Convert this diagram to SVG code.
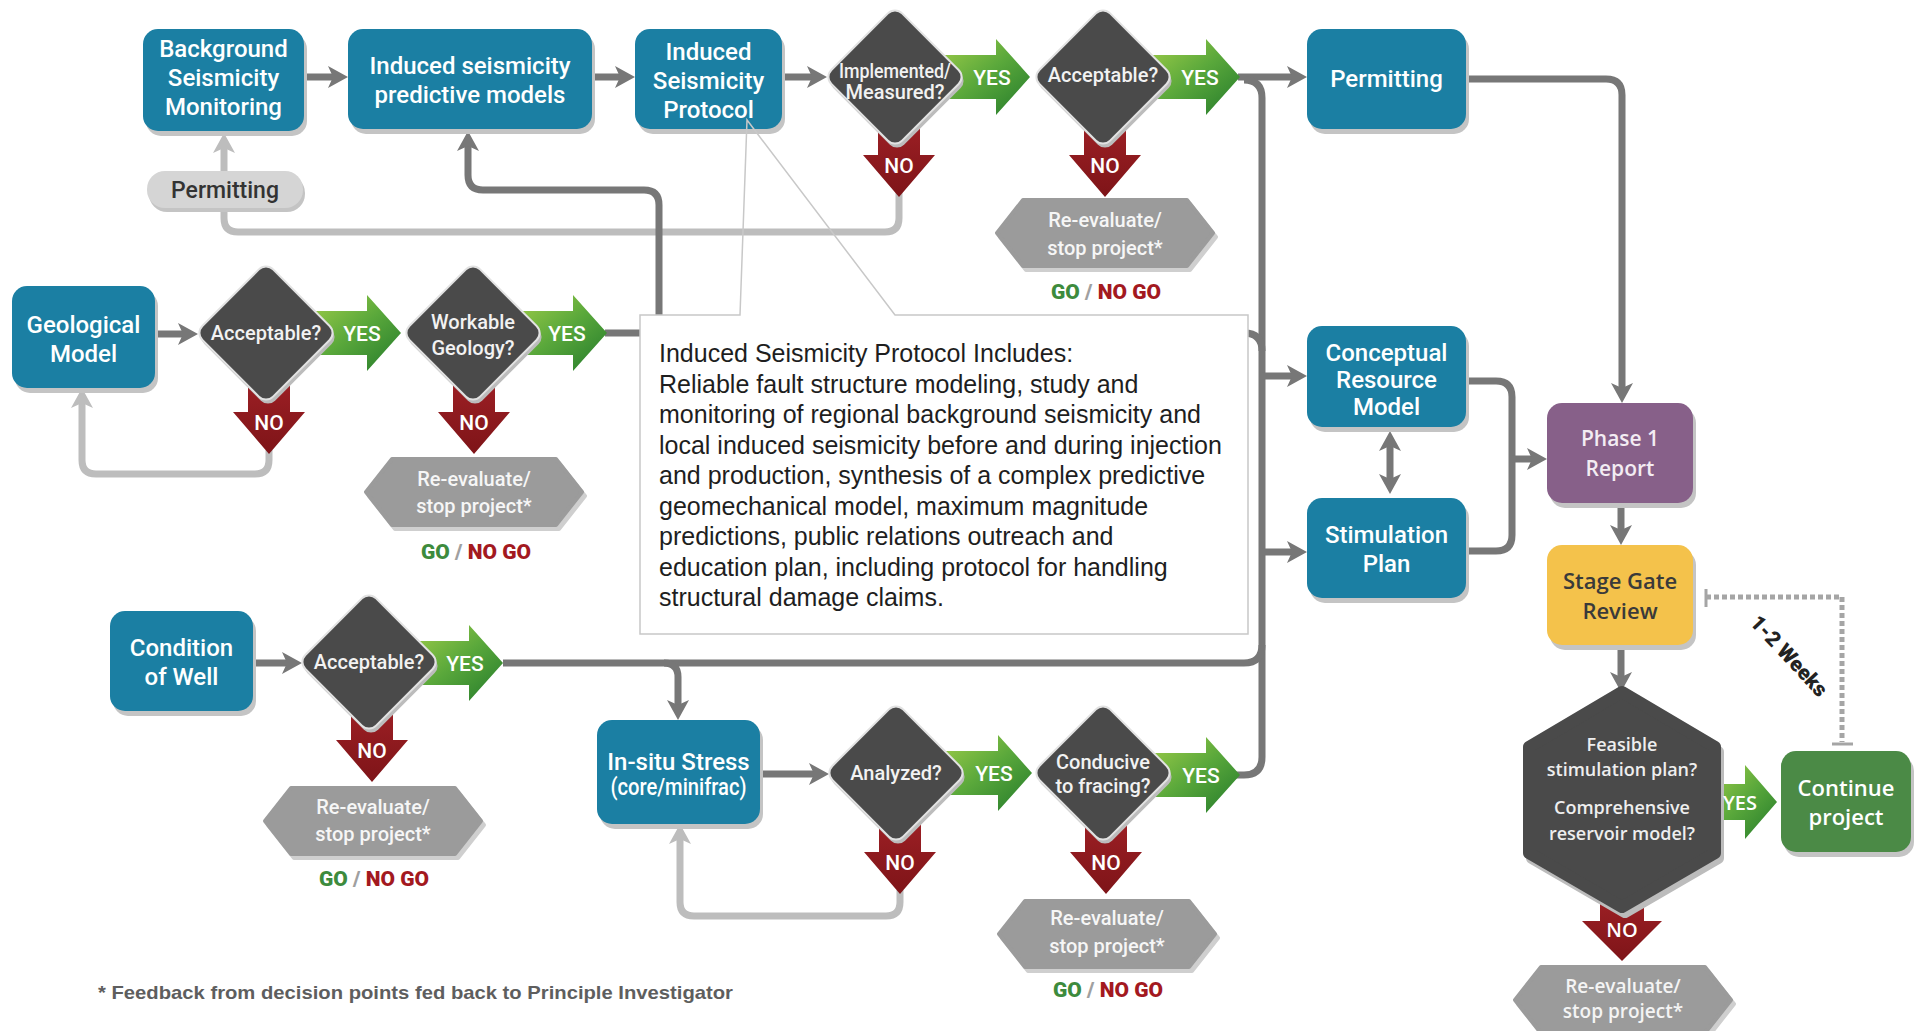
<svg xmlns="http://www.w3.org/2000/svg" width="1915" height="1031" viewBox="0 0 1915 1031">
<style>
.box{fill:#1b7fa3}
.sh{fill:#c4c4c4}
.bt{font-family:Roboto,"Liberation Sans",sans-serif;font-weight:500;font-size:24px;fill:#fff;text-anchor:middle}
.dt{font-family:Roboto,"Liberation Sans",sans-serif;font-weight:500;font-size:20px;fill:#f2f2f2;text-anchor:middle}
.yn{font-family:Roboto,"Liberation Sans",sans-serif;font-weight:500;font-size:21px;fill:#fff;text-anchor:middle}
.rt{font-family:Roboto,"Liberation Sans",sans-serif;font-weight:500;font-size:20px;fill:#f6f6f6;text-anchor:middle}
.gng{font-family:Roboto,"Liberation Sans",sans-serif;font-weight:900;font-size:21px;text-anchor:middle}
.ot{font-family:"Open Sans","Liberation Sans",sans-serif;font-weight:600;text-anchor:middle}
.dia{fill:#4a4a4a;stroke:#e2e2e2;stroke-width:2}
.dsh{fill:#bcbcbc}
.hex{fill:#9b9b9b;stroke:#9b9b9b;stroke-width:4;stroke-linejoin:round}
.hsh{fill:#cfcfcf;stroke:#cfcfcf;stroke-width:4;stroke-linejoin:round}
.c{fill:none;stroke:#777;stroke-width:7}
.cl{fill:none;stroke:#bdbdbd;stroke-width:7}
.go{fill:#3d8b3d}.sl{fill:#a0a0a0}.ng{fill:#a3191f}
</style>
<defs>
<linearGradient id="gG" x1="0" y1="0" x2="1" y2="1">
<stop offset="0" stop-color="#a5d04a"/><stop offset="0.5" stop-color="#5aa83b"/><stop offset="1" stop-color="#237a2b"/>
</linearGradient>
<linearGradient id="gR" x1="0" y1="0" x2="0" y2="1">
<stop offset="0" stop-color="#a52328"/><stop offset="1" stop-color="#7e1418"/>
</linearGradient>
<marker id="ah" viewBox="0 0 20 24" refX="12" refY="12" markerWidth="20" markerHeight="24" markerUnits="userSpaceOnUse" orient="auto-start-reverse">
<path d="M0,1 L20,12 L0,23 L5,12 Z" fill="#777"/>
</marker>
<marker id="ahl" viewBox="0 0 20 24" refX="12" refY="12" markerWidth="20" markerHeight="24" markerUnits="userSpaceOnUse" orient="auto-start-reverse">
<path d="M0,1 L20,12 L0,23 L5,12 Z" fill="#bdbdbd"/>
</marker>
<rect id="dm" x="-50" y="-50" width="100" height="100" rx="10" transform="rotate(45)"/>
<path id="hx" d="M-108,0 L-82,-33 H82 L108,0 L82,33 H-82 Z"/>
<path id="ya" d="M-95,-22 H-34 V-38 L0,0 L-34,38 V22 H-95 Z"/>
<path id="na" d="M-21,-95 H21 V-42 H36 L0,0 L-36,-42 H-21 Z"/>
</defs>
<rect width="1915" height="1031" fill="#fff"/>

<g id="connectors">
<path class="c" d="M304,77 H340" marker-end="url(#ah)"/>
<path class="c" d="M592,77 H627" marker-end="url(#ah)"/>
<path class="c" d="M782,77 H819" marker-end="url(#ah)"/>
<path class="c" d="M1238,77 H1299" marker-end="url(#ah)"/>
<path class="c" d="M1466,79 H1606 Q1622,79 1622,95 V395" marker-end="url(#ah)"/>
<path class="c" d="M1244,80 Q1262,80 1262,98 V757 Q1262,775 1244,775 H1236"/>
<path class="c" d="M503,663 H1244 Q1262,663 1262,645"/>
<path class="c" d="M605,333 H1244 Q1262,333 1262,351"/>
<path class="c" d="M1262,376 H1299" marker-end="url(#ah)"/>
<path class="c" d="M1262,552 H1299" marker-end="url(#ah)"/>
<path class="c" d="M1390,439 V486" marker-start="url(#ah)" marker-end="url(#ah)"/>
<path class="c" d="M1466,381 H1496 Q1512,381 1512,397 V535 Q1512,551 1496,551 H1466"/>
<path class="c" d="M1512,459 H1539" marker-end="url(#ah)"/>
<path class="c" d="M1621,505 V537" marker-end="url(#ah)"/>
<path class="c" d="M1621,647 V684" marker-end="url(#ah)"/>
<path class="cl" d="M899,190 V218 Q899,232 885,232 H238 Q224,232 224,218 V208"/>
<path class="cl" d="M224,171 V141" marker-end="url(#ahl)"/>
<path class="c" d="M659,333 V205 Q659,190 644,190 H483 Q468,190 468,175 V139" marker-end="url(#ah)"/>
<path class="c" d="M158,334 H190" marker-end="url(#ah)"/>
<path class="cl" d="M269,450 V460 Q269,474 255,474 H96 Q82,474 82,460 V396" marker-end="url(#ahl)"/>
<path class="c" d="M256,663 H294" marker-end="url(#ah)"/>
<path class="c" d="M664,663 Q678,663 678,677 V712" marker-end="url(#ah)"/>
<path class="c" d="M760,774 H821" marker-end="url(#ah)"/>
<path class="cl" d="M900,890 V902 Q900,916 886,916 H694 Q680,916 680,902 V832" marker-end="url(#ahl)"/>
<path d="M1706,589 V607 M1832,744 H1853" fill="none" stroke="#a5a5a5" stroke-width="3"/>
<path d="M1706,597 H1842 V742" fill="none" stroke="#a5a5a5" stroke-width="5" stroke-dasharray="5 3"/>
<text x="1789" y="663" transform="rotate(47 1789 656)" font-family="Roboto,'Liberation Sans',sans-serif" font-weight="900" font-size="21" fill="#222" text-anchor="middle">1-2 Weeks</text>
</g>

<g id="n-bsm">
<rect class="sh" x="146" y="34" width="161" height="102" rx="15"/>
<rect class="box" x="143" y="29" width="161" height="102" rx="15"/>
<text class="bt" x="223.5" y="57">Background</text>
<text class="bt" x="223.5" y="86">Seismicity</text>
<text class="bt" x="223.5" y="115">Monitoring</text>
</g>
<g id="n-ispm">
<rect class="sh" x="351" y="34" width="244" height="100" rx="15"/>
<rect class="box" x="348" y="29" width="244" height="100" rx="15"/>
<text class="bt" x="470" y="74">Induced seismicity</text>
<text class="bt" x="470" y="103">predictive models</text>
</g>
<g id="n-isp">
<rect class="sh" x="638" y="34" width="147" height="100" rx="15"/>
<rect class="box" x="635" y="29" width="147" height="100" rx="15"/>
<text class="bt" x="708.5" y="60">Induced</text>
<text class="bt" x="708.5" y="89">Seismicity</text>
<text class="bt" x="708.5" y="118">Protocol</text>
</g>
<g id="n-permpill">
<rect class="sh" x="149" y="175" width="156" height="37" rx="18"/>
<rect x="147" y="171" width="156" height="37" rx="18" fill="#d5d5d5"/>
<text x="225" y="198" font-family="Roboto,'Liberation Sans',sans-serif" font-weight="500" font-size="23" fill="#333" text-anchor="middle">Permitting</text>
</g>

<g id="n-d1">
<use href="#ya" x="1030" y="77" fill="url(#gG)"/>
<use href="#na" x="899" y="197" fill="url(#gR)"/>
<use href="#dm" x="897" y="81" class="dsh"/>
<use href="#dm" x="895" y="77" class="dia"/>
<text class="dt" x="895" y="78" font-size="16" textLength="112" lengthAdjust="spacingAndGlyphs">Implemented/</text>
<text class="dt" x="895" y="99" font-size="16">Measured?</text>
<text class="yn" x="992" y="85">YES</text>
<text class="yn" x="899" y="173">NO</text>
</g>
<g id="n-d2">
<use href="#ya" x="1240" y="77" fill="url(#gG)"/>
<use href="#na" x="1105" y="197" fill="url(#gR)"/>
<use href="#dm" x="1105" y="81" class="dsh"/>
<use href="#dm" x="1103" y="77" class="dia"/>
<text class="dt" x="1103" y="82">Acceptable?</text>
<text class="yn" x="1200" y="85">YES</text>
<text class="yn" x="1105" y="173">NO</text>
</g>
<g id="n-re1">
<use href="#hx" x="1108" y="237" class="hsh"/>
<use href="#hx" x="1105" y="233" class="hex"/>
<text class="rt" x="1105" y="227">Re-evaluate/</text>
<text class="rt" x="1105" y="255">stop project*</text>
<text class="gng" x="1106" y="299"><tspan class="go">GO</tspan><tspan class="sl"> / </tspan><tspan class="ng">NO GO</tspan></text>
</g>
<g id="n-perm">
<rect class="sh" x="1310" y="34" width="159" height="100" rx="15"/>
<rect class="box" x="1307" y="29" width="159" height="100" rx="15"/>
<text class="bt" x="1386.5" y="87">Permitting</text>
</g>

<g id="n-geo">
<rect class="sh" x="15" y="291" width="143" height="102" rx="15"/>
<rect class="box" x="12" y="286" width="143" height="102" rx="15"/>
<text class="bt" x="83.5" y="333">Geological</text>
<text class="bt" x="83.5" y="362">Model</text>
</g>
<g id="n-d3">
<use href="#ya" x="401" y="333" fill="url(#gG)"/>
<use href="#na" x="269" y="454" fill="url(#gR)"/>
<use href="#dm" x="268" y="337" class="dsh"/>
<use href="#dm" x="266" y="333" class="dia"/>
<text class="dt" x="266" y="340">Acceptable?</text>
<text class="yn" x="362" y="341">YES</text>
<text class="yn" x="269" y="430">NO</text>
</g>
<g id="n-d4">
<use href="#ya" x="607" y="333" fill="url(#gG)"/>
<use href="#na" x="474" y="454" fill="url(#gR)"/>
<use href="#dm" x="475" y="337" class="dsh"/>
<use href="#dm" x="473" y="333" class="dia"/>
<text class="dt" x="473" y="329">Workable</text>
<text class="dt" x="473" y="355">Geology?</text>
<text class="yn" x="567" y="341">YES</text>
<text class="yn" x="474" y="430">NO</text>
</g>
<g id="n-re2">
<use href="#hx" x="477" y="496" class="hsh"/>
<use href="#hx" x="474" y="492" class="hex"/>
<text class="rt" x="474" y="486">Re-evaluate/</text>
<text class="rt" x="474" y="513">stop project*</text>
<text class="gng" x="476" y="559"><tspan class="go">GO</tspan><tspan class="sl"> / </tspan><tspan class="ng">NO GO</tspan></text>
</g>

<g id="n-cow">
<rect class="sh" x="113" y="616" width="143" height="100" rx="15"/>
<rect class="box" x="110" y="611" width="143" height="100" rx="15"/>
<text class="bt" x="181.5" y="656">Condition</text>
<text class="bt" x="181.5" y="685">of Well</text>
</g>
<g id="n-d5">
<use href="#ya" x="503" y="663" fill="url(#gG)"/>
<use href="#na" x="372" y="782" fill="url(#gR)"/>
<use href="#dm" x="371" y="666" class="dsh"/>
<use href="#dm" x="369" y="662" class="dia"/>
<text class="dt" x="369" y="669">Acceptable?</text>
<text class="yn" x="465" y="671">YES</text>
<text class="yn" x="372" y="758">NO</text>
</g>
<g id="n-re3">
<use href="#hx" x="376" y="825" class="hsh"/>
<use href="#hx" x="373" y="821" class="hex"/>
<text class="rt" x="373" y="814">Re-evaluate/</text>
<text class="rt" x="373" y="841">stop project*</text>
<text class="gng" x="374" y="886"><tspan class="go">GO</tspan><tspan class="sl"> / </tspan><tspan class="ng">NO GO</tspan></text>
</g>
<g id="n-insitu">
<rect class="sh" x="600" y="725" width="163" height="104" rx="15"/>
<rect class="box" x="597" y="720" width="163" height="104" rx="15"/>
<text class="bt" x="678.5" y="770" font-size="23">In-situ Stress</text>
<text class="bt" x="678.5" y="795" font-size="18" textLength="136" lengthAdjust="spacingAndGlyphs">(core/minifrac)</text>
</g>
<g id="n-d6">
<use href="#ya" x="1032" y="773" fill="url(#gG)"/>
<use href="#na" x="900" y="894" fill="url(#gR)"/>
<use href="#dm" x="898" y="777" class="dsh"/>
<use href="#dm" x="896" y="773" class="dia"/>
<text class="dt" x="896" y="780">Analyzed?</text>
<text class="yn" x="994" y="781">YES</text>
<text class="yn" x="900" y="870">NO</text>
</g>
<g id="n-d7">
<use href="#ya" x="1240" y="775" fill="url(#gG)"/>
<use href="#na" x="1106" y="894" fill="url(#gR)"/>
<use href="#dm" x="1105" y="777" class="dsh"/>
<use href="#dm" x="1103" y="773" class="dia"/>
<text class="dt" x="1103" y="769">Conducive</text>
<text class="dt" x="1103" y="793">to fracing?</text>
<text class="yn" x="1201" y="783">YES</text>
<text class="yn" x="1106" y="870">NO</text>
</g>
<g id="n-re5">
<use href="#hx" x="1110" y="938" class="hsh"/>
<use href="#hx" x="1107" y="934" class="hex"/>
<text class="rt" x="1107" y="925">Re-evaluate/</text>
<text class="rt" x="1107" y="953">stop project*</text>
<text class="gng" x="1108" y="997"><tspan class="go">GO</tspan><tspan class="sl"> / </tspan><tspan class="ng">NO GO</tspan></text>
</g>

<g id="n-crm">
<rect class="sh" x="1310" y="331" width="159" height="101" rx="15"/>
<rect class="box" x="1307" y="326" width="159" height="101" rx="15"/>
<text class="bt" x="1386.5" y="361" font-size="23">Conceptual</text>
<text class="bt" x="1386.5" y="388" font-size="23">Resource</text>
<text class="bt" x="1386.5" y="415" font-size="23">Model</text>
</g>
<g id="n-stim">
<rect class="sh" x="1310" y="503" width="159" height="100" rx="15"/>
<rect class="box" x="1307" y="498" width="159" height="100" rx="15"/>
<text class="bt" x="1386.5" y="543">Stimulation</text>
<text class="bt" x="1386.5" y="572">Plan</text>
</g>
<g id="n-phase1">
<rect class="sh" x="1550" y="408" width="146" height="100" rx="15"/>
<rect x="1547" y="403" width="146" height="100" rx="15" fill="#876089"/>
<text class="ot" x="1620" y="446" font-size="21" fill="#f3ecf3">Phase 1</text>
<text class="ot" x="1620" y="476" font-size="21" fill="#f3ecf3">Report</text>
</g>
<g id="n-sgr">
<rect class="sh" x="1550" y="550" width="146" height="100" rx="15"/>
<rect x="1547" y="545" width="146" height="100" rx="15" fill="#f4c24b"/>
<text class="ot" x="1620" y="589" font-size="22" fill="#3a3a3a">Stage Gate</text>
<text class="ot" x="1620" y="619" font-size="22" fill="#3a3a3a">Review</text>
</g>
<g id="n-d8">
<path d="M-70,-18 H-32 V-37 L0,0 L-32,37 V18 H-70 Z" transform="translate(1777 802)" fill="url(#gG)"/>
<path d="M-22,-80 H22 V-40 H40 L0,0 L-40,-40 H-22 Z" transform="translate(1622 961)" fill="url(#gR)"/>
<path d="M1625,697 L1718,752 V858 L1625,912 L1532,858 V752 Z" fill="#bcbcbc" stroke="#bcbcbc" stroke-width="12" stroke-linejoin="round"/>
<path d="M1622,692 L1715,747 V853 L1622,907 L1529,853 V747 Z" fill="#4a4a4a" stroke="#4a4a4a" stroke-width="12" stroke-linejoin="round"/>
<text class="ot" x="1622" y="751" font-size="18" fill="#eee">Feasible</text>
<text class="ot" x="1622" y="776" font-size="18" fill="#eee">stimulation plan?</text>
<text class="ot" x="1622" y="814" font-size="18" fill="#eee">Comprehensive</text>
<text class="ot" x="1622" y="840" font-size="18" fill="#eee">reservoir model?</text>
<text class="ot" x="1740" y="810" font-size="20" fill="#fff">YES</text>
<text class="ot" x="1622" y="937" font-size="20" fill="#fff">NO</text>
</g>
<g id="n-re4">
<use href="#hx" x="1626" y="1004" class="hsh"/>
<use href="#hx" x="1623" y="1000" class="hex"/>
<text class="ot" x="1623" y="993" font-size="19" fill="#f4f4f4">Re-evaluate/</text>
<text class="ot" x="1623" y="1018" font-size="19" fill="#f4f4f4">stop project*</text>
</g>
<g id="n-cont">
<rect class="sh" x="1784" y="756" width="130" height="101" rx="15"/>
<rect x="1781" y="751" width="130" height="101" rx="15" fill="#4b8a46"/>
<text class="ot" x="1846" y="796" font-size="22" fill="#fff">Continue</text>
<text class="ot" x="1846" y="825" font-size="22" fill="#fff">project</text>
</g>

<g id="n-callout">
<rect x="640" y="315" width="608" height="319" fill="#fff"/>
<path d="M740,315 L747,120 L895,315 H1248 V634 H640 V315 Z" fill="none" stroke="#c8c8c8" stroke-width="1.5"/>
<g font-family="'Liberation Sans',Arial,sans-serif" font-size="25" fill="#1e1e1e">
<text x="659" y="362">Induced Seismicity Protocol Includes:</text>
<text x="659" y="392.5">Reliable fault structure modeling, study and</text>
<text x="659" y="423">monitoring of regional background seismicity and</text>
<text x="659" y="453.5">local induced seismicity before and during injection</text>
<text x="659" y="484">and production, synthesis of a complex predictive</text>
<text x="659" y="514.5">geomechanical model, maximum magnitude</text>
<text x="659" y="545">predictions, public relations outreach and</text>
<text x="659" y="575.5">education plan, including protocol for handling</text>
<text x="659" y="606">structural damage claims.</text>
</g>
</g>

<text id="footnote" x="98" y="999" font-family="'Liberation Sans',Arial,sans-serif" font-weight="bold" font-size="19" fill="#5e5e5e" textLength="635" lengthAdjust="spacingAndGlyphs">* Feedback from decision points fed back to Principle Investigator</text>
</svg>
